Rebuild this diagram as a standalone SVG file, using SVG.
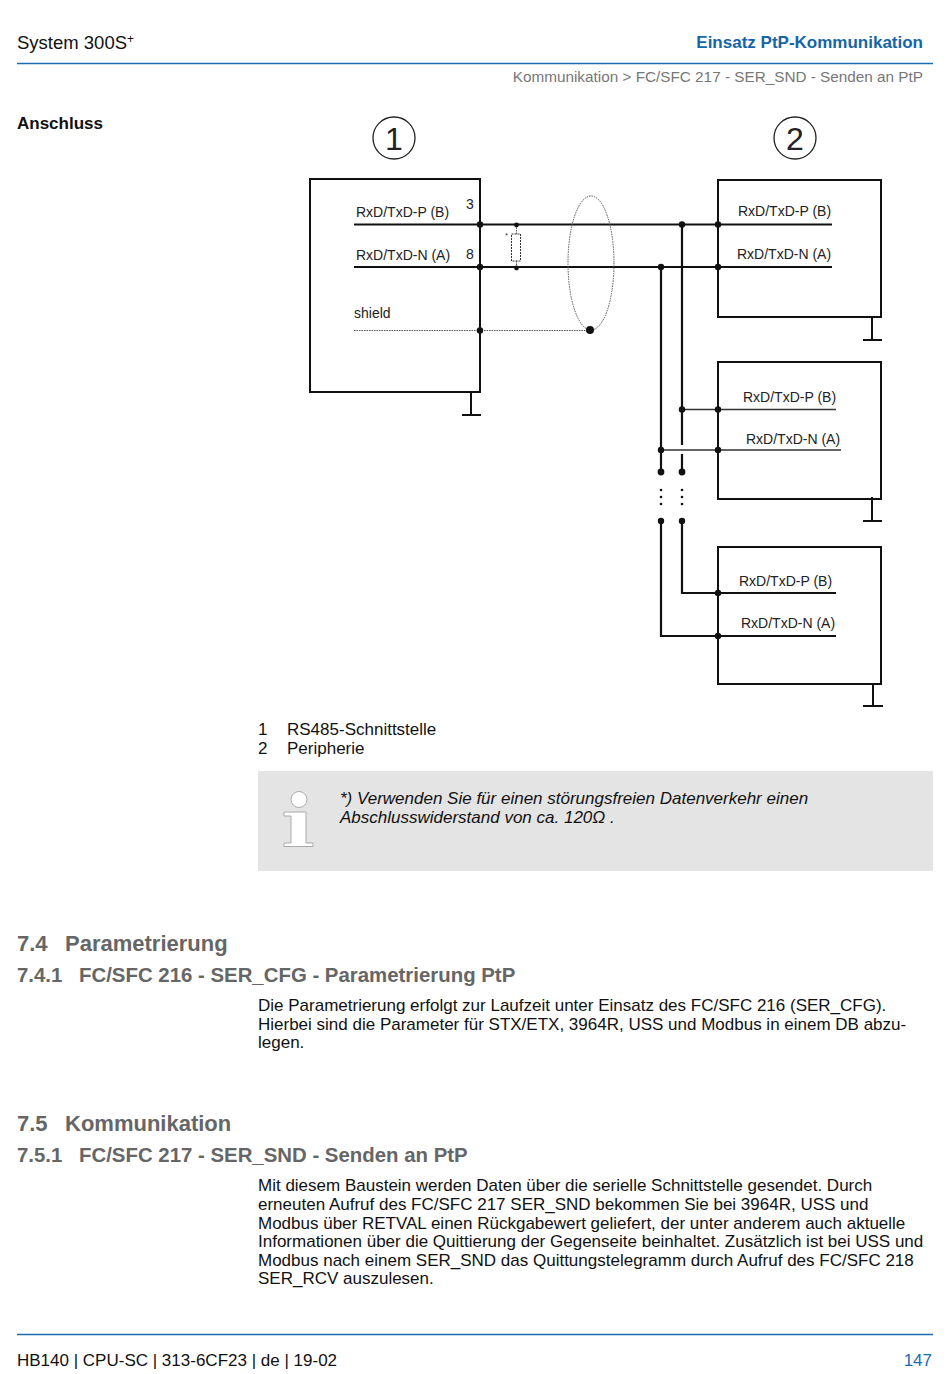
<svg xmlns="http://www.w3.org/2000/svg" width="950" height="1374" viewBox="0 0 950 1374">
<style>
text{font-family:"Liberation Sans",Arial,sans-serif;fill:#111}
.b{font-size:17px}
.l{font-size:14px;fill:#222}
.h{font-size:22px;font-weight:bold;fill:#666}
.h2{font-size:20.400px;font-weight:bold;fill:#666}
.box{fill:none;stroke:#111;stroke-width:2}
.w{fill:none;stroke:#111;stroke-width:2.200}
.t{fill:none;stroke:#333;stroke-width:1.300}
.g{fill:none;stroke:#111;stroke-width:2}
.s{fill:none;stroke:#555;stroke-width:1;stroke-dasharray:1.500 1}
</style>
<rect width="950" height="1374" fill="#fff"/>
<g id="header">
<text x="17" y="49" font-size="18.500">System 300S<tspan font-size="12" dy="-6">+</tspan></text>
<text x="923" y="48" text-anchor="end" font-size="17" font-weight="bold" style="fill:#1565a8">Einsatz PtP-Kommunikation</text>
<line x1="17" y1="63.500" x2="933" y2="63.500" stroke="#1a6cb0" stroke-width="1.600"/>
<text x="923" y="82" text-anchor="end" font-size="15.300" style="fill:#777">Kommunikation &gt; FC/SFC 217 - SER_SND - Senden an PtP</text>
<text x="17" y="129" font-size="17" font-weight="bold">Anschluss</text>
</g>
<g id="marker1"><circle cx="394" cy="138" r="21" fill="none" stroke="#222" stroke-width="1.300"/><text x="394" y="150" text-anchor="middle" font-size="32" style="fill:#222">1</text></g>
<g id="marker2"><circle cx="795" cy="138" r="21" fill="none" stroke="#222" stroke-width="1.300"/><text x="795" y="150" text-anchor="middle" font-size="32" style="fill:#222">2</text></g>
<g id="node1">
<rect class="box" x="310" y="179" width="170" height="213"/>
<path class="g" d="M471 392V415M462 415H481"/>
<text class="l" x="356" y="217">RxD/TxD-P (B)</text>
<text class="l" x="356" y="260">RxD/TxD-N (A)</text>
<text class="l" x="354" y="318">shield</text>
<text class="l" x="466" y="208.500">3</text>
<text class="l" x="466" y="259">8</text>
</g>
<g id="node2">
<rect class="box" x="718" y="180" width="163" height="137"/>
<path class="g" d="M872 317V340M863 340H882"/>
<text class="l" x="738" y="216">RxD/TxD-P (B)</text>
<text class="l" x="737" y="259">RxD/TxD-N (A)</text>
</g>
<g id="node3">
<rect class="box" x="718" y="362" width="163" height="137"/>
<path class="g" d="M872 497V521M863 521H882"/>
<text class="l" x="743" y="402">RxD/TxD-P (B)</text>
<text class="l" x="746" y="444">RxD/TxD-N (A)</text>
</g>
<g id="node4">
<rect class="box" x="718" y="547" width="163" height="137"/>
<path class="g" d="M873 684V706M863 706H883"/>
<text class="l" x="739" y="586">RxD/TxD-P (B)</text>
<text class="l" x="741" y="628">RxD/TxD-N (A)</text>
</g>
<g id="connectors">
<path class="w" d="M354 224.500H832M354 267H832"/>
<path class="s" d="M354 330.500H590"/>
<ellipse class="s" cx="591" cy="263" rx="23" ry="67"/>
<path class="s" d="M516.500 225V234M516.500 261V268"/>
<rect x="511.500" y="234" width="9" height="27" fill="none" stroke="#333" stroke-width="1" stroke-dasharray="2 1"/>
<text x="505" y="238" font-size="8" style="fill:#333">*</text>
<path class="w" d="M661 267V450M682 225V445M682 454V472M661 450V472"/>
<path class="t" d="M682 409.500H836M658 450H841"/>
<path class="w" d="M661 521V636H718M682 521V593H718"/>
<path class="w" d="M718 593H836M718 636H836"/>
<g fill="#111">
<circle cx="480" cy="224.500" r="3.200"/><circle cx="480" cy="267" r="3.200"/><circle cx="480" cy="330.500" r="3.200"/>
<circle cx="516.500" cy="225" r="2.400"/><circle cx="516.500" cy="268" r="2.400"/>
<circle cx="590" cy="330" r="4"/>
<circle cx="682" cy="224.500" r="3.200"/><circle cx="718" cy="224.500" r="3.200"/>
<circle cx="661" cy="267" r="3.200"/><circle cx="718" cy="267" r="3.200"/>
<circle cx="682" cy="409.500" r="3.200"/><circle cx="718" cy="409.500" r="3.200"/>
<circle cx="661" cy="450" r="3.200"/><circle cx="718" cy="450" r="3.200"/>
<circle cx="661" cy="472" r="3.400"/><circle cx="682" cy="472" r="3.400"/>
<circle cx="661" cy="521" r="3.200"/><circle cx="682" cy="521" r="3.200"/>
<circle cx="718" cy="593" r="3.200"/><circle cx="718" cy="636" r="3.200"/>
<circle cx="661" cy="490" r="1.300"/><circle cx="661" cy="497" r="1.300"/><circle cx="661" cy="504" r="1.300"/>
<circle cx="682" cy="490" r="1.300"/><circle cx="682" cy="497" r="1.300"/><circle cx="682" cy="504" r="1.300"/>
</g>
</g>
<g id="legend">
<text class="b" x="258" y="735">1</text><text class="b" x="287" y="735">RS485-Schnittstelle</text>
<text class="b" x="258" y="754">2</text><text class="b" x="287" y="754">Peripherie</text>
</g>
<g id="note">
<rect x="258" y="771" width="675" height="100" fill="#e4e4e4"/>
<circle cx="299" cy="799.500" r="8" fill="#fff" stroke="#aaa"/>
<path d="M284 812H306V843H313V846.500H284V843H291V816H284Z" fill="#fff" stroke="#aaa"/>
<text class="b" x="340" y="804" font-style="italic">*) Verwenden Sie für einen störungsfreien Datenverkehr einen</text>
<text class="b" x="340" y="823" font-style="italic">Abschlusswiderstand von ca. 120Ω .</text>
</g>
<g id="sec74">
<text class="h" x="17" y="951">7.4</text><text class="h" x="65" y="951">Parametrierung</text>
<text class="h2" x="17" y="982">7.4.1</text><text class="h2" x="79" y="982">FC/SFC 216 - SER_CFG - Parametrierung PtP</text>
<text class="b" x="258" y="1011">Die Parametrierung erfolgt zur Laufzeit unter Einsatz des FC/SFC 216 (SER_CFG).</text>
<text class="b" x="258" y="1029.500">Hierbei sind die Parameter für STX/ETX, 3964R, USS und Modbus in einem DB abzu-</text>
<text class="b" x="258" y="1048">legen.</text>
</g>
<g id="sec75">
<text class="h" x="17" y="1131">7.5</text><text class="h" x="65" y="1131">Kommunikation</text>
<text class="h2" x="17" y="1162">7.5.1</text><text class="h2" x="79" y="1162">FC/SFC 217 - SER_SND - Senden an PtP</text>
<text class="b" x="258" y="1191">Mit diesem Baustein werden Daten über die serielle Schnittstelle gesendet. Durch</text>
<text class="b" x="258" y="1210">erneuten Aufruf des FC/SFC 217 SER_SND bekommen Sie bei 3964R, USS und</text>
<text class="b" x="258" y="1228.500">Modbus über RETVAL einen Rückgabewert geliefert, der unter anderem auch aktuelle</text>
<text class="b" x="258" y="1247">Informationen über die Quittierung der Gegenseite beinhaltet. Zusätzlich ist bei USS und</text>
<text class="b" x="258" y="1265.500">Modbus nach einem SER_SND das Quittungstelegramm durch Aufruf des FC/SFC 218</text>
<text class="b" x="258" y="1284">SER_RCV auszulesen.</text>
</g>
<g id="footer">
<line x1="17" y1="1334.500" x2="933" y2="1334.500" stroke="#1a6cb0" stroke-width="1.600"/>
<text x="17" y="1366" font-size="17">HB140 | CPU-SC | 313-6CF23 | de | 19-02</text>
<text x="932" y="1366" text-anchor="end" font-size="17" style="fill:#1a6cb0">147</text>
</g>
</svg>
